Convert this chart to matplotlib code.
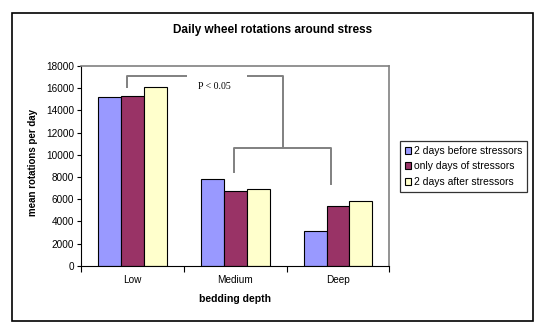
import matplotlib
matplotlib.use("Agg")
import matplotlib.pyplot as plt
import numpy as np
from matplotlib.patches import Rectangle, Patch

plt.rcParams['font.family'] = ['Liberation Sans', 'DejaVu Sans']

categories = ["Low", "Medium", "Deep"]
series_names = ["2 days before stressors", "only days of stressors", "2 days after stressors"]
before = [15200, 7850, 3130]
during = [15300, 6760, 5410]
after = [16100, 6940, 5860]
colors = ["#9999FF", "#993366", "#FFFFCC"]

W, H = 547, 335
fig = plt.figure(figsize=(W / 100, H / 100), dpi=100)
fig.patch.set_facecolor("white")

# plot area in pixel coordinates
px_l, px_r, px_t, px_b = 81.3, 389.3, 66.0, 265.7
ax = fig.add_axes([px_l / W, 1 - px_b / H, (px_r - px_l) / W, (px_b - px_t) / H])

x = np.arange(len(categories))
bw = 1 / 4.5
for i, (vals, c) in enumerate(zip([before, during, after], colors)):
    ax.bar(x + (i - 1) * bw, vals, width=bw, color=c, edgecolor="black", linewidth=0.8,
           label=series_names[i], zorder=2)

ax.set_xlim(-0.5, 2.5)
ax.set_ylim(0, 18000)
ax.set_yticks(np.arange(0, 18001, 2000))
ax.tick_params(axis="y", labelsize=7.2, length=3, width=0.8, pad=2, colors="black")
ax.set_xticks(x)
ax.set_xticklabels(categories, fontsize=7.2)
ax.tick_params(axis="x", length=0, pad=7)
ax.set_xticks([-0.5, 0.5, 1.5, 2.5], minor=True)
ax.tick_params(axis="x", which="minor", length=4, width=0.8)

for s in ["top", "right"]:
    ax.spines[s].set_color("#808080")
    ax.spines[s].set_linewidth(1.2)
for s in ["left", "bottom"]:
    ax.spines[s].set_color("black")
    ax.spines[s].set_linewidth(0.8)

# significance brackets
gcol = "#808080"
lw = 1.4
ax.plot([-0.057, -0.057, 0.527], [16000, 17120, 17120], color=gcol, lw=lw, zorder=3, solid_capstyle="butt")
ax.plot([1.111, 1.462, 1.462], [17120, 17120, 10580], color=gcol, lw=lw, zorder=3, solid_capstyle="butt")
ax.plot([0.99, 0.99, 1.929, 1.929], [8470, 10580, 10580, 7370], color=gcol, lw=lw, zorder=3)
ax.text(0.793, 16150, "P < 0.05", fontsize=7, ha="center", va="center",
        family=["Liberation Serif", "DejaVu Serif"])

ax.set_xlabel("bedding depth", fontsize=7.6, fontweight="bold", labelpad=6)

fig.text(33 / W, 1 - 163 / H, "mean rotations per day", fontsize=7.0, fontweight="bold",
         rotation=90, ha="center", va="center")
fig.text(273 / W, 1 - 30 / H, "Daily wheel rotations around stress", fontsize=8.5,
         fontweight="bold", ha="center", va="center")

handles = [Patch(facecolor=c, edgecolor="black", linewidth=0.8) for c in colors]
leg = fig.legend(handles, series_names, loc="upper left",
                 bbox_to_anchor=(400 / W, 1 - 141 / H), fontsize=7.5, frameon=True,
                 fancybox=False, edgecolor="black", handlelength=0.65, handleheight=0.65,
                 handletextpad=0.25, borderpad=0.45, labelspacing=0.55, borderaxespad=0)
leg.get_frame().set_linewidth(0.9)

# outer chart border
fig.add_artist(Rectangle((12.3 / W, 1 - 321 / H), (533.3 - 12.3) / W, (321 - 13.3) / H,
                         transform=fig.transFigure, fill=False, edgecolor="black", lw=1.2))

fig.savefig("out.png", dpi=100)
